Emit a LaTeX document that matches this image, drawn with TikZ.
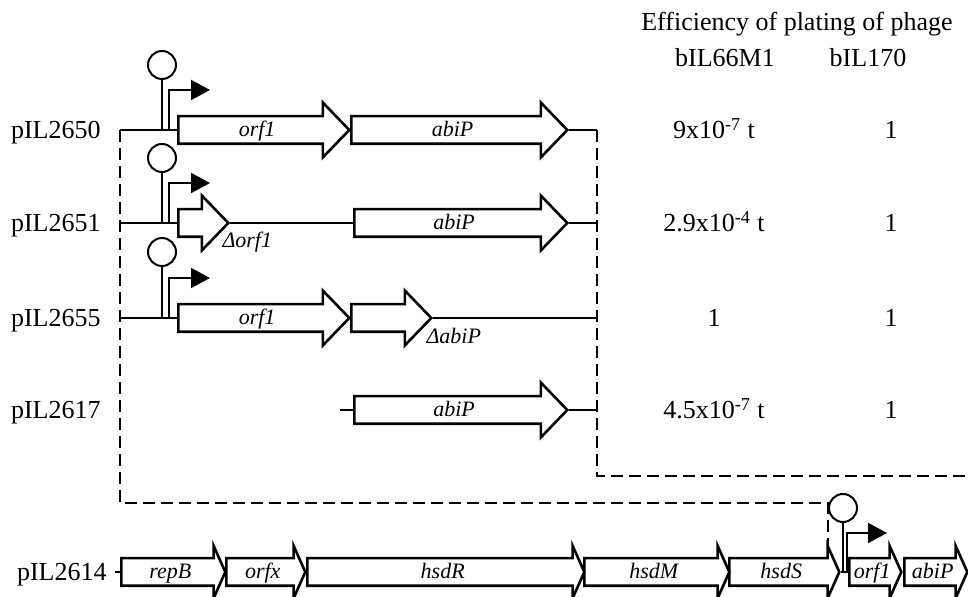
\documentclass[tikz,border=0pt]{standalone}
\usepackage{fontspec}
\setmainfont{Liberation Serif}
\usetikzlibrary{arrows.meta,positioning,shapes.arrows}

\begin{document}
\begin{tikzpicture}[x=0.5pt,y=-0.5pt,
    gene/.style={single arrow, draw, line width=1.3pt, anchor=tail, inner xsep=0pt, inner ysep=0pt,
      text height=9.5pt, text depth=3pt, single arrow head extend=6.75pt,
      single arrow tip angle=92, font=\fontsize{11}{13}\selectfont\itshape},
    bgene/.style={gene, single arrow head extend=6.25pt, single arrow tip angle=132},
    span/.style={minimum height=#1*0.5pt},
    dna/.style={line width=1pt},
    term/.style={circle, draw, line width=1pt, minimum size=14pt, inner sep=0pt},
    prom/.style={line width=1pt, -{Triangle[length=9.5pt,width=10pt]}},
    link/.style={line width=1.4pt, dash pattern=on 6pt off 3pt},
    txt/.style={font=\fontsize{13}{15}\selectfont, inner sep=0pt, text height=11pt, text depth=2.2pt},
    plasmid/.style={txt, anchor=east},
    mut/.style={font=\fontsize{11}{13}\selectfont\itshape, inner sep=0pt}
  ]
  \useasboundingbox (0,0) rectangle (968,597);

  % column heads
  \node[txt] (eop) at (797,22) {Efficiency of plating of phage};
  \node[txt] (ph1) at (725,58) {bIL66M1};
  \node[txt] (ph2) at (868,58) {bIL170};

  % pIL2650
  \coordinate (s1) at (120,130);
  \coordinate (e1) at (597,130);
  \node[plasmid] (l1) at (101,130) {pIL2650};
  \node[gene, span=171] (o1) at (177,130) {orf1};
  \node[gene, span=216] (a1) at (350,130) {abiP};
  \draw[dna] (s1) -- (o1.tail) (o1.tip) -- (a1.tail) (a1.tip) -- (e1);
  \node[term] (t1) at (162,65) {};
  \draw[dna] (t1) -- (t1 |- s1);
  \coordinate (r1) at (169,130);
  \coordinate (p1) at (210,90);
  \draw[prom] (r1) |- (p1);
  \node[txt] (v1) at (714,130) {9x10\textsuperscript{-7} t};
  \node[txt] (w1) at (891,130) {1};

  % pIL2651
  \coordinate (s2) at (120,223);
  \coordinate (e2) at (597,223);
  \node[plasmid] (l2) at (101,223) {pIL2651};
  \node[gene, span=50] (o2) at (177,223) {};
  \node[gene, span=213] (a2) at (353,223) {abiP};
  \draw[dna] (s2) -- (o2.tail) (o2.tip) -- (a2.tail) (a2.tip) -- (e2);
  \node[mut, below right=4.5pt and -4pt of o2.tip] (m2) {Δorf1};
  \node[term] (t2) at (162,158) {};
  \draw[dna] (t2) -- (t2 |- s2);
  \coordinate (r2) at (169,223);
  \coordinate (p2) at (210,183);
  \draw[prom] (r2) |- (p2);
  \node[txt] (v2) at (714,223) {2.9x10\textsuperscript{-4} t};
  \node[txt] (w2) at (891,223) {1};

  % pIL2655
  \coordinate (s3) at (120,318);
  \coordinate (e3) at (597,318);
  \node[plasmid] (l3) at (101,318) {pIL2655};
  \node[gene, span=171] (o3) at (177,318) {orf1};
  \node[gene, span=80] (a3) at (350,318) {};
  \draw[dna] (s3) -- (o3.tail) (o3.tip) -- (a3.tail) (a3.tip) -- (e3);
  \node[mut, below right=5pt and -3.5pt of a3.tip] (m3) {ΔabiP};
  \node[term] (t3) at (162,252) {};
  \draw[dna] (t3) -- (t3 |- s3);
  \coordinate (r3) at (169,318);
  \coordinate (p3) at (210,278);
  \draw[prom] (r3) |- (p3);
  \node[txt] (v3) at (714,318) {1};
  \node[txt] (w3) at (891,318) {1};

  % pIL2617
  \coordinate (s4) at (340,410);
  \coordinate (e4) at (597,410);
  \node[plasmid] (l4) at (101,410) {pIL2617};
  \node[gene, span=213] (a4) at (353,410) {abiP};
  \draw[dna] (s4) -- (a4.tail) (a4.tip) -- (e4);
  \node[txt] (v4) at (714,410) {4.5x10\textsuperscript{-7} t};
  \node[txt] (w4) at (891,410) {1};

  % deletions mapped back on pIL2614
  \coordinate (c1) at (828,503);
  \coordinate (d1) at (828,557);
  \coordinate (c2) at (968,476);
  \draw[link] (s1) |- (c1) -- (d1);
  \draw[link] (e1) |- (c2);

  % pIL2614
  \coordinate (s5) at (115,572);
  \node[plasmid] (l5) at (107,572) {pIL2614};
  \node[bgene, span=104] (g1) at (120,572) {repB};
  \node[bgene, span=79] (g2) at (225,572) {orfx};
  \node[bgene, span=277] (g3) at (306,572) {hsdR};
  \node[bgene, span=145] (g4) at (583,572) {hsdM};
  \node[bgene, span=110] (g5) at (728,572) {hsdS};
  \node[bgene, span=52] (g6) at (848,572) {orf1};
  \node[bgene, span=63] (g7) at (903,572) {abiP};
  \draw[dna] (s5) -- (g1.tail) (g5.tip) -- (g6.tail);
  \node[term] (t5) at (843,508) {};
  \draw[dna] (t5) -- (t5 |- s5);
  \coordinate (r5) at (847,572);
  \coordinate (p5) at (887,533);
  \draw[prom] (r5) |- (p5);
\end{tikzpicture}
\end{document}
